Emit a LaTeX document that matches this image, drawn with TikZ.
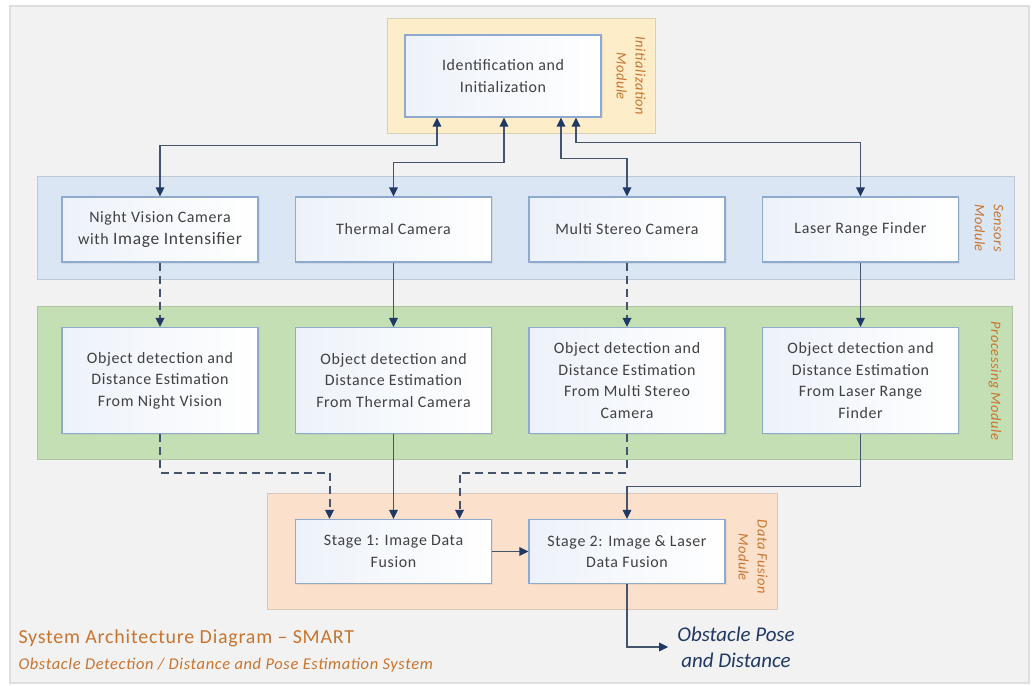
\documentclass[tikz,border=0pt]{standalone}
\usepackage{fontspec}
\setmainfont{Carlito}
\newfontfamily\spacedfont[LetterSpace=4]{Carlito}
\usetikzlibrary{arrows.meta,positioning,calc,shadows}

\definecolor{linkgray}{HTML}{44546A}
\definecolor{tipnavy}{HTML}{1F3864}
\definecolor{boxedge}{HTML}{8FAACF}
\definecolor{boxtint}{HTML}{EDF2FA}
\definecolor{modtext}{HTML}{C8742E}
\definecolor{initfill}{HTML}{FDEDC8}
\definecolor{sensfill}{HTML}{DAE6F3}
\definecolor{procfill}{HTML}{C5DFB4}
\definecolor{fusefill}{HTML}{FBE0CC}
\definecolor{canvas}{HTML}{F2F2F2}

\begin{document}
\begin{tikzpicture}[x=1bp,y=-1bp]

  \tikzstyle{box}=[draw=boxedge, line width=1.2bp, left color=boxtint, right color=white,
    minimum width=196bp, minimum height=65bp, align=center, text=black!75,
    font=\spacedfont\fontsize{16}{21.5}\selectfont,
    drop shadow={opacity=0.12, shadow xshift=1.5bp, shadow yshift=-1.5bp}]
  \tikzstyle{module}=[line width=0.8bp]
  \tikzstyle{modlab}=[text=modtext, align=center, rotate=-90, font=\spacedfont\fontsize{14.5}{19}\selectfont\itshape]
  \tikzstyle{link}=[draw=linkgray, line width=1.4bp, >={Triangle[length=9bp,width=8.5bp,color=tipnavy]}]
  \tikzstyle{dlink}=[link, line width=2bp, dash pattern=on 8bp off 5bp]
  \def\hsp{233.5}
  \def\vsp{151}

  % page and canvas
  \useasboundingbox (0,0) rectangle (1034,686);
  \draw[draw=black!13, line width=2bp, fill=canvas] (10,6) rectangle (1029,683);

  % module backgrounds
  \draw[module, fill=initfill, draw=initfill!85!black!90] (387,18) rectangle (655,133);
  \draw[module, fill=sensfill, draw=sensfill!85!black!90] (37,176) rectangle (1014,279);
  \draw[module, fill=procfill, draw=procfill!85!black!90] (37,306) rectangle (1012,459);
  \draw[module, fill=fusefill, draw=fusefill!85!black!90] (267,493) rectangle (777,609);

  \node[modlab] (initlab) at (631,76) {Initialization\\Module};
  \node[modlab] (senslab) at (989,228) {Sensors\\Module};
  \node[modlab] (proclab) at (995,381) {Processing Module};
  \node[modlab] (fuselab) at (753,557) {Data Fusion\\Module};

  % boxes
  \node[box, minimum height=82bp] (ident) at (503,76) {Identification and\\Initialization};

  \node[box] (nv) at (160,229.5) {Night Vision Camera\\with {\fontsize{17.5}{21.5}\selectfont Image Intensifier}};
  \node[box] (th) at ($(nv)+(\hsp,0)$) {Thermal Camera};
  \node[box] (ms) at ($(th)+(\hsp,0)$) {Multi Stereo Camera};
  \node[box] (lr) at ($(ms)+(\hsp,0)$) {Laser Range Finder};

  \node[box, minimum height=106bp] (pnv) at ($(nv)+(0,\vsp)$) {Object detection and\\Distance Estimation\\From Night Vision};
  \node[box, minimum height=106bp] (pth) at ($(th)+(0,\vsp)$) {Object detection and\\Distance Estimation\\From Thermal Camera};
  \node[box, minimum height=106bp] (pms) at ($(ms)+(0,\vsp)$) {Object detection and\\Distance Estimation\\From Multi Stereo\\Camera};
  \node[box, minimum height=106bp] (plr) at ($(lr)+(0,\vsp)$) {Object detection and\\Distance Estimation\\From Laser Range\\Finder};

  \node[box, minimum height=64bp] (st1) at ($(pth)+(0,171)$) {Stage 1: Image Data\\Fusion};
  \node[box, minimum height=64bp] (st2) at ($(st1)+(\hsp,0)$) {Stage 2: Image \& Laser\\Data Fusion};

  \node[text=tipnavy, align=center, inner sep=9bp, font=\fontsize{21}{26}\selectfont\itshape] (out) at (736,647) {Obstacle Pose\\and Distance};

  % ends on the init box and the fusion boxes
  \coordinate (i1) at ($(ident.south)+(-66,0)$);
  \coordinate (i2) at ($(ident.south)+(1,0)$);
  \coordinate (i3) at ($(ident.south)+(58,0)$);
  \coordinate (i4) at ($(ident.south)+(73,0)$);
  \coordinate (s1a) at ($(st1.north)+(-64,0)$);
  \coordinate (s1c) at ($(st1.north)+(66,0)$);

  \draw[link,<->] (i1) -- ++(0,28) -| (nv);
  \draw[link,<->] (i2) -- ++(0,45) -| (th);
  \draw[link,<->] (i3) -- ++(0,41) -| (ms);
  \draw[link,<->] (i4) -- ++(0,25) -| (lr);

  \draw[dlink,->] (nv) -- (pnv);
  \draw[link,->] (th) -- (pth);
  \draw[dlink,->] (ms) -- (pms);
  \draw[link,->] (lr) -- (plr);

  \draw[dlink,->] (pnv) -- ++(0,92) -| (s1a);
  \draw[link,->] (pth) -- (st1);
  \draw[dlink,->] (pms) -- ++(0,92) -| (s1c);
  \draw[link,->] (plr) -- ++(0,106) -| (st2);

  \draw[link,->] (st1) -- (st2);
  \draw[link,->] (st2) |- (out);

  % caption
  \node[anchor=west, text=modtext, font=\spacedfont\fontsize{20}{22}\selectfont] (ttl) at (15,638) {System Architecture Diagram – SMART};
  \node[anchor=west, text=modtext, font=\spacedfont\fontsize{16.5}{18}\selectfont\itshape] (sub) at (15,665) {Obstacle Detection / Distance and Pose Estimation System};
\end{tikzpicture}
\end{document}
